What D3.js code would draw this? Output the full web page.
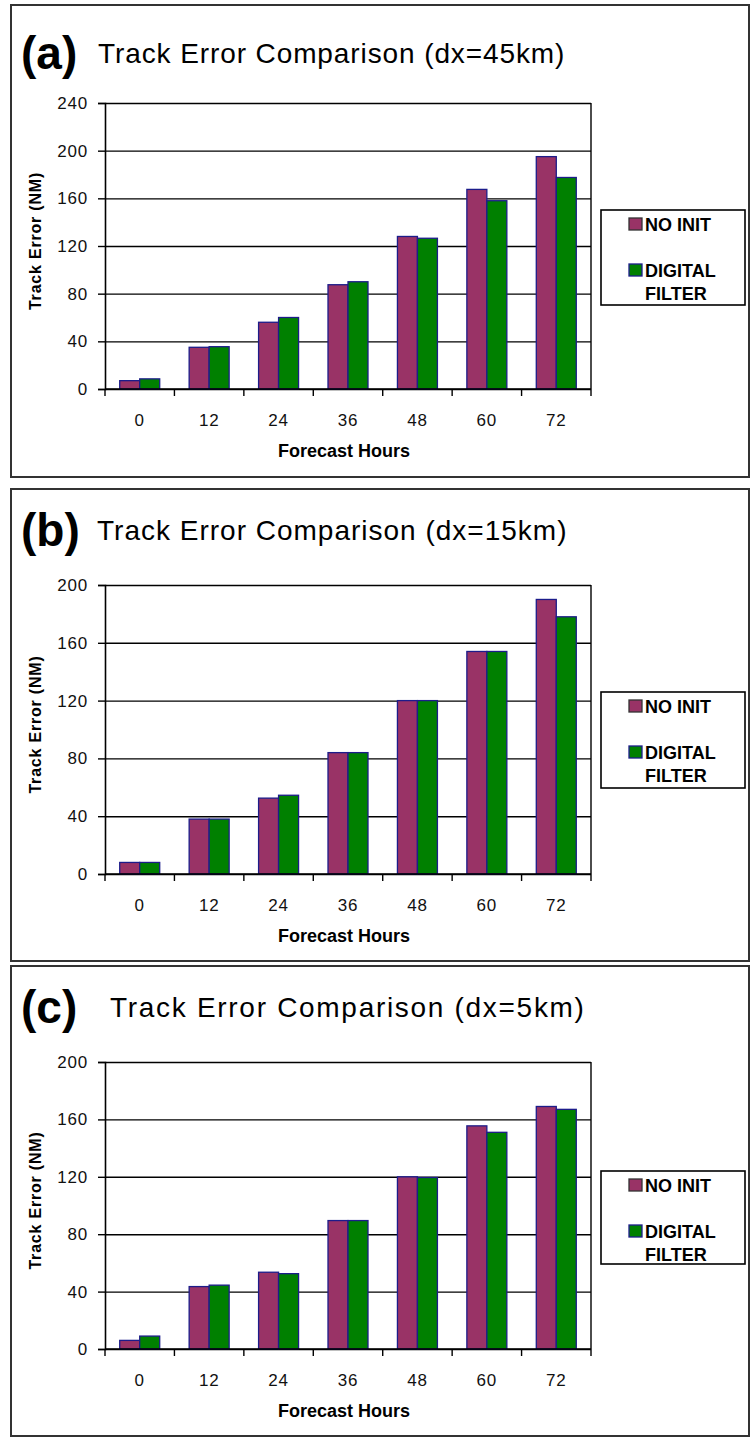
<!DOCTYPE html>
<html>
<head>
<meta charset="utf-8">
<script src="https://cdn.jsdelivr.net/npm/d3@7"></script>
<style>
  body { margin: 0; background: #fff; }
  svg { display: block; font-family: "Liberation Sans", Arial, sans-serif; }
</style>
</head>
<body>
<svg id="chart" width="751" height="1437"></svg>
<script>
// data
const hours = ['0', '12', '24', '36', '48', '60', '72'];
const seriesNames = ['NO INIT', 'DIGITAL FILTER'];
const panelLabels = ['(a)', '(b)', '(c)'];
const panelTitles = ['Track Error Comparison (dx=45km)', 'Track Error Comparison (dx=15km)', 'Track Error Comparison (dx=5km)'];
const yMax = [240, 200, 200];
const yTicksA = [0, 40, 80, 120, 160, 200, 240];
const yTicksBC = [0, 40, 80, 120, 160, 200];
const noInitA = [7, 35, 56, 87.5, 128, 167.5, 195];
const filterA = [8.5, 35.5, 60, 90, 126.5, 158, 177.5];
const noInitB = [8, 38, 52.5, 84, 120, 154, 190];
const filterB = [8, 38, 54.5, 84, 120, 154, 178];
const noInitC = [6, 43.5, 53.5, 89.5, 120, 155.5, 169];
const filterC = [9, 44.5, 52.5, 89.5, 119.5, 151, 167];

const colors = ['#993366', '#008000'];

// layout of the three panels
const layout = [
  { top: 5, bottom: 477, titleY: 63, titleX: 98, spacing: 0.9, plotTop: 103, plotBottom: 389, legTop: 210, legBottom: 305 },
  { top: 489, bottom: 961, titleY: 540, titleX: 97, spacing: 1.0, plotTop: 585, plotBottom: 874, legTop: 692, legBottom: 788 },
  { top: 966, bottom: 1436, titleY: 1017, titleX: 110, spacing: 1.7, plotTop: 1062, plotBottom: 1349, legTop: 1171, legBottom: 1264 }
];
const panelData = [[noInitA, filterA], [noInitB, filterB], [noInitC, filterC]];
const panelTicks = [yTicksA, yTicksBC, yTicksBC];

const svg = d3.select('#chart');
const plotLeft = 105, plotRight = 591;

layout.forEach((L, p) => drawPanel(L, p));

function drawPanel(L, p) {
  const g = svg.append('g');

  // panel frame
  g.append('rect')
    .attr('x', 11).attr('y', L.top)
    .attr('width', 738).attr('height', L.bottom - L.top)
    .attr('fill', 'none').attr('stroke', '#333').attr('stroke-width', 2);

  g.append('text').attr('x', 21).attr('y', L.titleY + 6)
    .attr('font-size', 46).attr('font-weight', 'bold')
    .text(panelLabels[p]);

  g.append('text').attr('x', L.titleX).attr('y', L.titleY)
    .attr('font-size', 28).attr('letter-spacing', L.spacing)
    .text(panelTitles[p]);

  const x0 = d3.scaleBand().domain(hours).range([plotLeft, plotRight])
    .paddingInner(0.424).paddingOuter(0.212);
  const x1 = d3.scaleBand().domain(seriesNames).range([0, x0.bandwidth()]);
  const y = d3.scaleLinear().domain([0, yMax[p]]).range([L.plotBottom, L.plotTop]);

  // grid lines
  g.append('g')
    .attr('transform', `translate(${plotLeft},0)`)
    .call(d3.axisLeft(y).tickValues(panelTicks[p]).tickSize(-(plotRight - plotLeft)).tickFormat(''))
    .call(s => s.select('.domain').remove())
    .selectAll('line').attr('stroke', '#000').attr('stroke-width', 1.4);

  // right frame line
  g.append('line')
    .attr('x1', plotRight).attr('x2', plotRight)
    .attr('y1', y(yMax[p])).attr('y2', y(0))
    .attr('stroke', '#000').attr('stroke-width', 1.4);

  // bars
  const groups = g.selectAll('.grp')
    .data(hours)
    .enter().append('g')
    .attr('transform', d => `translate(${x0(d)},0)`);

  groups.selectAll('rect')
    .data((d, i) => seriesNames.map((s, k) => ({ s: s, v: panelData[p][k][i], k: k })))
    .enter().append('rect')
    .attr('x', d => x1(d.s))
    .attr('width', x1.bandwidth())
    .attr('y', d => y(d.v))
    .attr('height', d => y(0) - y(d.v))
    .attr('fill', d => colors[d.k])
    .attr('stroke', '#1c1c8a')
    .attr('stroke-width', 1.3);

  // y axis
  const yAxis = g.append('g')
    .attr('transform', `translate(${plotLeft},0)`)
    .call(d3.axisLeft(y).tickValues(panelTicks[p]).tickSize(7).tickPadding(10));
  yAxis.select('.domain').attr('stroke', '#000').attr('stroke-width', 1.6);
  yAxis.selectAll('line').attr('stroke', '#000').attr('stroke-width', 1.4);
  yAxis.selectAll('text').attr('font-size', 17).attr('fill', '#111')
    .attr('font-family', '"Liberation Sans", Arial, sans-serif').attr('letter-spacing', 0.8);

  // x axis line with ticks on category boundaries
  g.append('line')
    .attr('x1', plotLeft).attr('x2', plotRight)
    .attr('y1', y(0)).attr('y2', y(0))
    .attr('stroke', '#000').attr('stroke-width', 1.6);
  const bounds = d3.range(hours.length + 1).map(i => plotLeft + i * x0.step());
  g.selectAll('.xt').data(bounds).enter().append('line')
    .attr('x1', d => d).attr('x2', d => d)
    .attr('y1', y(0)).attr('y2', y(0) + 7)
    .attr('stroke', '#000').attr('stroke-width', 1.4);

  const xAxis = g.append('g')
    .attr('transform', `translate(0,${y(0)})`)
    .call(d3.axisBottom(x0).tickSize(0).tickPadding(25));
  xAxis.select('.domain').remove();
  xAxis.selectAll('text').attr('font-size', 17).attr('fill', '#111')
    .attr('font-family', '"Liberation Sans", Arial, sans-serif').attr('letter-spacing', 0.8);

  g.append('text')
    .attr('x', (plotLeft + plotRight) / 2 - 4).attr('y', y(0) + 68)
    .attr('text-anchor', 'middle').attr('font-size', 18).attr('font-weight', 'bold')
    .text('Forecast Hours');

  g.append('text')
    .attr('transform', `translate(41,${(L.plotTop + L.plotBottom) / 2 - 5}) rotate(-90)`)
    .attr('text-anchor', 'middle').attr('font-size', 16).attr('font-weight', 'bold')
    .attr('letter-spacing', 0.8)
    .text('Track Error (NM)');

  // legend
  g.append('rect')
    .attr('x', 601).attr('y', L.legTop)
    .attr('width', 144).attr('height', L.legBottom - L.legTop)
    .attr('fill', '#fff').attr('stroke', '#000').attr('stroke-width', 1.6);

  const legRows = [
    { k: 0, lines: ['NO INIT'], y: L.legTop + 14 },
    { k: 1, lines: ['DIGITAL', 'FILTER'], y: L.legTop + 60 }
  ];
  legRows.forEach(r => {
    g.append('rect')
      .attr('x', 629).attr('y', r.y - 6)
      .attr('width', 13).attr('height', 12)
      .attr('fill', colors[r.k]).attr('stroke', r.k ? '#1c1c8a' : '#333').attr('stroke-width', 1.3);
    r.lines.forEach((t, j) => {
      g.append('text')
        .attr('x', 645).attr('y', r.y + 7 + j * 23)
        .attr('font-size', 18).attr('font-weight', 'bold')
        .text(t);
    });
  });
}
</script>
</body>
</html>
